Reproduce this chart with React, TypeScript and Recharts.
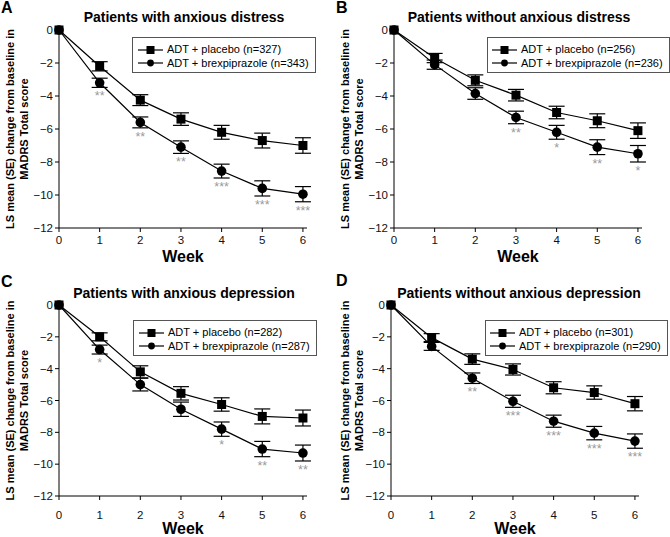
import { LineChart, Line, XAxis, YAxis, ErrorBar, LabelList } from 'recharts'

const weeks = [0, 1, 2, 3, 4, 5, 6]
const yTicks = [0, -2, -4, -6, -8, -10, -12]

// Panel A - with anxious distress
const placeboA = [0, -2.2, -4.25, -5.4, -6.2, -6.7, -7.0]
const placeboSeA = [0, 0.28, 0.33, 0.38, 0.42, 0.45, 0.47]
const brexA = [0, -3.2, -5.6, -7.1, -8.55, -9.6, -9.95]
const brexSeA = [0, 0.28, 0.33, 0.38, 0.42, 0.46, 0.46]
const sigA = ['', '**', '**', '**', '***', '***', '***']

// Panel B - without anxious distress
const placeboB = [0, -1.7, -3.05, -3.95, -5.0, -5.5, -6.1]
const placeboSeB = [0, 0.28, 0.33, 0.35, 0.38, 0.42, 0.47]
const brexB = [0, -2.1, -3.85, -5.3, -6.2, -7.1, -7.5]
const brexSeB = [0, 0.28, 0.35, 0.38, 0.42, 0.45, 0.5]
const sigB = ['', '', '', '**', '*', '**', '*']

// Panel C - with anxious depression
const placeboC = [0, -2.0, -4.2, -5.55, -6.25, -7.0, -7.1]
const placeboSeC = [0, 0.25, 0.38, 0.42, 0.42, 0.47, 0.5]
const brexC = [0, -2.8, -5.0, -6.55, -7.8, -9.05, -9.3]
const brexSeC = [0, 0.28, 0.4, 0.45, 0.45, 0.48, 0.5]
const sigC = ['', '*', '', '', '*', '**', '**']

// Panel D - without anxious depression
const placeboD = [0, -2.05, -3.4, -4.05, -5.2, -5.5, -6.2]
const placeboSeD = [0, 0.25, 0.33, 0.35, 0.38, 0.42, 0.45]
const brexD = [0, -2.6, -4.6, -6.05, -7.3, -8.05, -8.55]
const brexSeD = [0, 0.25, 0.33, 0.38, 0.38, 0.42, 0.45]
const sigD = ['', '', '**', '***', '***', '***', '***']

const FONT = '"Liberation Sans", Arial, sans-serif'

const fmtY = (v: number) => (v < 0 ? `\u2212${Math.abs(v)}` : `${v}`)

const SquareDot = (p: any) => (
  <rect key={`sq-${p.index}`} x={p.cx - 4.5} y={p.cy - 4.5} width={9} height={9} fill="#000" />
)
const CircleDot = (p: any) => (
  <circle key={`ci-${p.index}`} cx={p.cx} cy={p.cy} r={4.8} fill="#000" />
)

function Panel(props: any) {
  const {
    x, y, w, h, letter, letterTop, title, titleTop, nPlacebo, nBrex,
    placebo, placeboSe, brex, brexSe, sig,
    top, left, right, axisH, tickMargin, weekOffset, legend,
  } = props

  const data = weeks.map((wk, i) => ({
    week: wk,
    placebo: placebo[i],
    placeboSe: placeboSe[i],
    brex: brex[i],
    brexSe: brexSe[i],
    sig: sig[i],
  }))

  const plotH = h - top - axisH
  const pxPerUnit = plotH / 12
  const midY = top + plotH / 2

  const SigLabel = (lp: any) => {
    if (!lp.value) return null
    const se = brexSe[lp.index] || 0
    return (
      <text
        x={lp.x}
        y={lp.y + se * pxPerUnit + 13}
        textAnchor="middle"
        fontSize={12.5}
        fill="#999"
        fontFamily={FONT}
      >
        {lp.value}
      </text>
    )
  }

  const YLabel = () => (
    <g>
      <text
        transform={`translate(${14},${midY}) rotate(-90)`}
        textAnchor="middle"
        fontSize={11}
        fontWeight="bold"
        fontFamily={FONT}
        fill="#000"
      >
        LS mean (SE) change from baseline in
      </text>
      <text
        transform={`translate(${27.5},${midY}) rotate(-90)`}
        textAnchor="middle"
        fontSize={11}
        fontWeight="bold"
        fontFamily={FONT}
        fill="#000"
      >
        MADRS Total score
      </text>
    </g>
  )

  return (
    <div style={{ position: 'absolute', left: x, top: y, width: w, height: h }}>
      <LineChart
        width={w}
        height={h}
        data={data}
        margin={{ top, right, bottom: 0, left: 0 }}
      >
        <XAxis
          dataKey="week"
          type="number"
          domain={[0, 6.1]}
          ticks={weeks}
          height={axisH}
          tickSize={4}
          tickMargin={tickMargin}
          stroke="#000"
          tick={{ fill: '#111', fontSize: 11.5, fontFamily: FONT }}
          label={{
            value: 'Week',
            position: 'insideBottom',
            offset: weekOffset,
            fontSize: 16,
            fontWeight: 'bold',
            fill: '#000',
            fontFamily: FONT,
          }}
        />
        <YAxis
          type="number"
          domain={[-12, 0]}
          ticks={yTicks}
          width={left}
          tickSize={4}
          stroke="#000"
          tickFormatter={fmtY}
          tick={{ fill: '#111', fontSize: 11.5, fontFamily: FONT }}
          label={{ content: YLabel }}
        />
        <Line
          dataKey="brex"
          stroke="#000"
          strokeWidth={1.2}
          dot={CircleDot}
          activeDot={false}
          isAnimationActive={false}
        >
          <ErrorBar dataKey="brexSe" width={8} stroke="#000" strokeWidth={1.2} direction="y" isAnimationActive={false} />
          <LabelList dataKey="sig" content={SigLabel} />
        </Line>
        <Line
          dataKey="placebo"
          stroke="#000"
          strokeWidth={1.2}
          dot={SquareDot}
          activeDot={false}
          isAnimationActive={false}
        >
          <ErrorBar dataKey="placeboSe" width={8} stroke="#000" strokeWidth={1.2} direction="y" isAnimationActive={false} />
        </Line>
      </LineChart>

      <div
        style={{
          position: 'absolute', left: 1, top: letterTop, fontSize: 16,
          fontWeight: 'bold', fontFamily: FONT, lineHeight: '16px',
        }}
      >
        {letter}
      </div>
      <div
        style={{
          position: 'absolute', left: 184 - 150, top: titleTop, width: 300,
          textAlign: 'center', fontSize: 14, fontWeight: 'bold',
          fontFamily: FONT, lineHeight: '16px', whiteSpace: 'nowrap',
        }}
      >
        {title}
      </div>

      {/* Legend */}
      <div
        style={{
          position: 'absolute', left: legend.left, top: legend.top,
          height: 36, boxSizing: 'border-box', paddingRight: 6,
          border: '1px solid #555', background: '#fff', fontFamily: FONT,
          fontSize: 11, paddingTop: 5, whiteSpace: 'nowrap',
        }}
      >
        {[
          { label: `ADT + placebo (n=${nPlacebo})`, square: true },
          { label: `ADT + brexpiprazole (n=${nBrex})`, square: false },
        ].map((item) => (
          <div key={item.label} style={{ display: 'flex', alignItems: 'center', height: 13.5, paddingLeft: legend.pad }}>
            <svg width={25} height={12} style={{ marginRight: 4, flexShrink: 0 }}>
              <line x1={0} y1={6} x2={25} y2={6} stroke="#000" strokeWidth={1.2} />
              {item.square
                ? <rect x={8.5} y={2} width={8} height={8} fill="#000" />
                : <circle cx={12.5} cy={6} r={3.4} fill="#000" />}
            </svg>
            <span style={{ lineHeight: '13px' }}>{item.label}</span>
          </div>
        ))}
      </div>
    </div>
  )
}

export default function App() {
  return (
    <div style={{ position: 'absolute', left: 0, top: 0, width: 670, height: 537, background: '#fff' }}>
      <Panel
        x={0} y={0} w={335} h={268} letter="A" letterTop={0}
        title="Patients with anxious distress" titleTop={9}
        nPlacebo={327} nBrex={343}
        placebo={placeboA} placeboSe={placeboSeA} brex={brexA} brexSe={brexSeA} sig={sigA}
        top={30} left={59} right={28} axisH={40} tickMargin={4} weekOffset={6}
        legend={{ left: 132, top: 37, pad: 5 }}
      />
      <Panel
        x={335} y={0} w={335} h={268} letter="B" letterTop={0}
        title="Patients without anxious distress" titleTop={9}
        nPlacebo={256} nBrex={236}
        placebo={placeboB} placeboSe={placeboSeB} brex={brexB} brexSe={brexSeB} sig={sigB}
        top={30} left={59} right={28} axisH={40} tickMargin={4} weekOffset={6}
        legend={{ left: 152, top: 37, pad: 4 }}
      />
      <Panel
        x={0} y={268} w={335} h={269} letter="C" letterTop={6}
        title="Patients with anxious depression" titleTop={17}
        nPlacebo={282} nBrex={287}
        placebo={placeboC} placeboSe={placeboSeC} brex={brexC} brexSe={brexSeC} sig={sigC}
        top={37} left={59} right={28} axisH={41} tickMargin={11} weekOffset={3}
        legend={{ left: 133, top: 52, pad: 5 }}
      />
      <Panel
        x={335} y={268} w={335} h={269} letter="D" letterTop={5}
        title="Patients without anxious depression" titleTop={17}
        nPlacebo={301} nBrex={290}
        placebo={placeboD} placeboSe={placeboSeD} brex={brexD} brexSe={brexSeD} sig={sigD}
        top={37} left={56} right={31} axisH={41} tickMargin={11} weekOffset={3}
        legend={{ left: 150, top: 52, pad: 4 }}
      />
    </div>
  )
}
